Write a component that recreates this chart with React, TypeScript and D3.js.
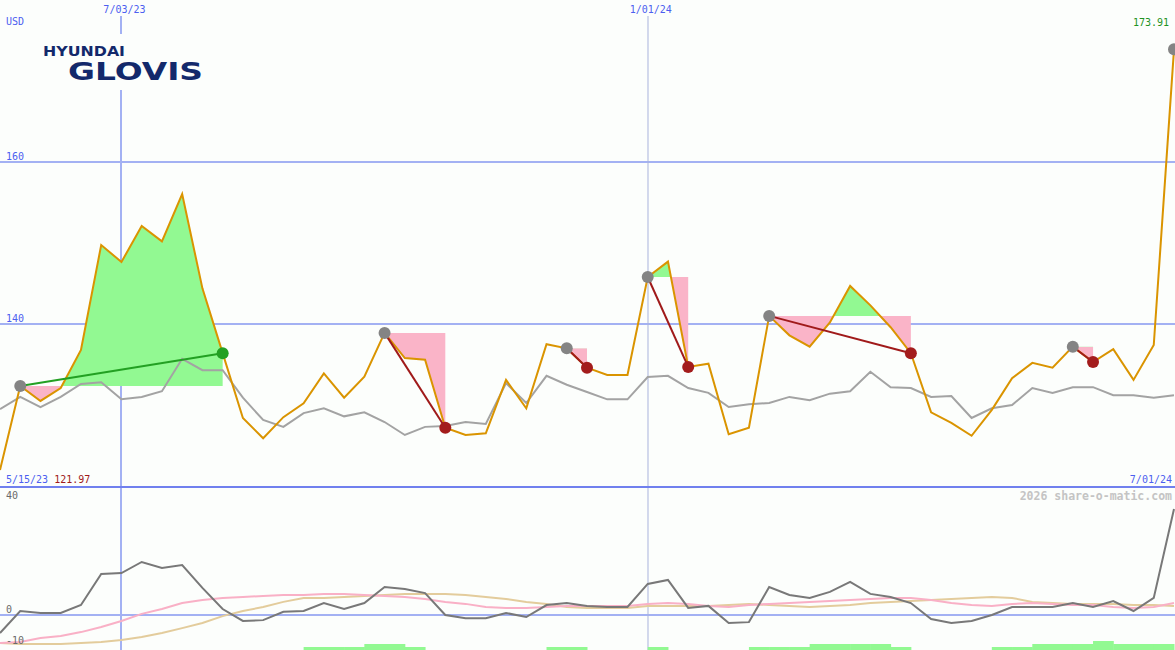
import React from "react";
import * as d3 from "d3";

// weekly closes (USD)
const closes = [
  121.97, 132.35, 130.5, 132.1, 136.8, 149.75, 147.65, 152.1, 150.2, 156.05,
  144.4, 136.4, 128.4, 125.9, 128.5, 130.2, 133.9, 130.9, 133.5, 138.9,
  135.8, 135.6, 127.2, 126.3, 126.5, 133.1, 129.6, 137.5, 137.0, 134.6,
  133.7, 133.7, 145.8, 147.7, 134.7, 135.1, 126.4, 127.2, 141.0, 138.6,
  137.2, 140.2, 144.7, 142.3, 139.6, 136.4, 129.1, 127.8, 126.2, 129.4,
  133.3, 135.2, 134.6, 137.2, 135.3, 136.9, 133.1, 137.4, 173.91,
];

// grey comparison line, same units
const benchmark = [
  129.5, 131.0, 129.75, 131.0, 132.6, 132.8, 130.7, 131.0, 131.7, 135.7,
  134.3, 134.3, 130.9, 128.15, 127.3, 129.0, 129.6, 128.6, 129.1, 127.9,
  126.3, 127.3, 127.4, 127.9, 127.65, 132.7, 130.25, 133.6, 132.5, 131.6,
  130.7, 130.7, 133.45, 133.6, 132.1, 131.5, 129.75, 130.1, 130.25, 131.0,
  130.6, 131.4, 131.7, 134.1, 132.2, 132.1, 131.0, 131.1, 128.4, 129.6,
  130.0, 132.1, 131.5, 132.2, 132.2, 131.2, 131.2, 130.9, 131.2,
];

// lower panel
const momentum = [
  -6.3, 1.4, 0.7, 0.7, 3.5, 14.4, 14.7, 18.6, 16.5, 17.5,
  9.5, 2.1, -2.1, -1.8, 1.1, 1.4, 4.2, 2.1, 4.2, 9.8,
  9.1, 7.7, 0, -1.1, -1.1, 0.7, -0.7, 3.5, 4.2, 3.2,
  2.8, 2.8, 10.9, 12.3, 2.5, 3.2, -2.8, -2.5, 9.8, 7.0,
  6.0, 8.1, 11.6, 7.4, 6.3, 4.2, -1.4, -2.8, -2.1, 0,
  2.8, 2.8, 2.8, 4.2, 2.8, 4.9, 1.4, 6.0, 37.2,
];
const fastAvg = [
  -9.8, -9.5, -8.1, -7.4, -6.0, -4.2, -2.1, 0.4, 2.1, 4.2,
  5.3, 6.0, 6.3, 6.7, 7.0, 7.0, 7.4, 7.4, 7.0, 6.7,
  6.3, 5.6, 4.6, 3.9, 2.8, 2.5, 2.5, 2.8, 3.2, 3.2,
  3.2, 3.2, 3.9, 4.2, 3.9, 3.2, 2.8, 3.5, 3.9, 4.2,
  4.6, 4.9, 5.3, 5.6, 6.0, 6.0, 5.3, 4.2, 3.5, 3.2,
  3.9, 4.2, 3.9, 3.5, 3.5, 2.8, 2.5, 2.8, 4.2,
];
const slowAvg = [
  -9.8, -10.2, -10.2, -10.2, -9.8, -9.5, -8.8, -7.7, -6.3, -4.6,
  -2.8, -0.4, 1.4, 2.8, 4.6, 6.0, 6.0, 6.3, 6.7, 7.0,
  7.4, 7.4, 7.4, 7.0, 6.3, 5.6, 4.6, 3.9, 2.8, 2.5,
  2.5, 2.5, 3.2, 3.2, 3.2, 3.2, 3.5, 3.9, 3.5, 3.2,
  2.8, 3.2, 3.5, 4.2, 4.6, 4.9, 5.3, 5.6, 6.0, 6.3,
  6.0, 4.6, 4.2, 3.9, 3.9, 3.9, 3.5, 3.5, 3.2,
];
const bandLevels = [
  0, 0, 0, 0, 0, 0, 0, 0, 0, 0,
  0, 0, 0, 0, 0, 1, 1, 1, 2, 2,
  1, 0, 0, 0, 0, 0, 0, 1, 1, 0,
  0, 0, 1, 0, 0, 0, 0, 1, 1, 1,
  2, 2, 2, 2, 1, 0, 0, 0, 0, 1,
  1, 2, 2, 2, 3, 2, 2, 2, 0,
];

// trades: entry / exit week index (-1 = still open)
const tradeEntries = [1, 19, 28, 32, 38, 53, 58];
const tradeExits = [11, 22, 29, 34, 45, 54, -1];

const priceTicks = [140, 160];
const lowerTicks = [40, 0, -10];
const firstWeek = new Date(2023, 4, 22);
const dateTicks = [new Date(2023, 6, 3), new Date(2024, 0, 1)];
const dateLabels = ["7/03/23", "1/01/24"];
const startLabel = "5/15/23";
const endLabel = "7/01/24";
const lowLabel = "121.97";
const highLabel = "173.91";

const W = 1175;
const H = 650;
const BG = "#fcfefc";
const GRID = "#a3b1f3";
const BLUE_TXT = "#4c5ff0";
const MONO = "'DejaVu Sans Mono', monospace";

export default function App() {
  const n = closes.length;
  const x = d3.scaleLinear().domain([0, n - 1]).range([0, 1174]);
  const xTime = d3
    .scaleTime()
    .domain([firstWeek, d3.timeWeek.offset(firstWeek, n - 1)])
    .range([0, 1174]);
  const y = d3.scaleLinear().domain([140, 160]).range([324, 162]);
  const yLow = d3.scaleLinear().domain([0, 40]).range([615, 501]);
  const yBand = d3.scaleLinear().domain([0, 3]).range([650, 641]);

  const priceLine = d3
    .line<number>()
    .x((_, i) => x(i))
    .y((d) => y(d));
  const lowLine = d3
    .line<number>()
    .x((_, i) => x(i))
    .y((d) => yLow(d));

  const trades = tradeEntries.map((e, k) => {
    const ex = tradeExits[k];
    const level = closes[e];
    const idx = ex < 0 ? [e] : d3.range(e, ex + 1);
    const area = d3
      .area<number>()
      .x((i) => x(i))
      .y0(y(level))
      .y1((i) => y(closes[i]));
    return { e, ex, level, path: area(idx) || "", win: ex >= 0 && closes[ex] > level };
  });

  return (
    <svg
      width={W}
      height={H}
      style={{ position: "absolute", left: 0, top: 0, background: BG }}
    >
      <defs>
        <clipPath id="mainClip">
          <rect x={0} y={0} width={W} height={486} />
        </clipPath>
        <clipPath id="lowClip">
          <rect x={0} y={489} width={W} height={H - 489} />
        </clipPath>
        {trades.map((t, k) => (
          <React.Fragment key={k}>
            <clipPath id={`up${k}`}>
              <rect x={0} y={0} width={W} height={y(t.level)} />
            </clipPath>
            <clipPath id={`dn${k}`}>
              <rect x={0} y={y(t.level)} width={W} height={H} />
            </clipPath>
          </React.Fragment>
        ))}
      </defs>
      <rect width={W} height={H} fill={BG} />

      {/* grid */}
      {priceTicks.map((v) => (
        <line key={v} x1={0} x2={W} y1={y(v)} y2={y(v)} stroke={GRID} strokeWidth={2} />
      ))}
      <line x1={0} x2={W} y1={yLow(0)} y2={yLow(0)} stroke={GRID} strokeWidth={2} />
      {dateTicks.map((d, i) => (
        <line
          key={i}
          x1={Math.round(xTime(d))}
          x2={Math.round(xTime(d))}
          y1={16}
          y2={H}
          stroke={i === 0 ? GRID : "#a9b3dc"}
          strokeWidth={i === 0 ? 2 : 1}
        />
      ))}
      <line x1={0} x2={W} y1={487} y2={487} stroke="#7080ee" strokeWidth={2} />

      {/* logo */}
      <rect x={38} y={34} width={170} height={56} fill={BG} />
      <text
        x={43}
        y={56}
        fontFamily="'DejaVu Sans', sans-serif"
        fontWeight="bold"
        fontSize={14}
        fill="#13296b"
        textLength={82}
        lengthAdjust="spacingAndGlyphs"
      >
        HYUNDAI
      </text>
      <text
        x={68}
        y={80}
        fontFamily="'DejaVu Sans', sans-serif"
        fontWeight="bold"
        fontSize={24}
        fill="#13296b"
        textLength={135}
        lengthAdjust="spacingAndGlyphs"
      >
        GLOVIS
      </text>

      {/* main panel */}
      <g clipPath="url(#mainClip)">
        {trades.map((t, k) => (
          <g key={k}>
            <path d={t.path} fill="#92f992" clipPath={`url(#up${k})`} />
            <path d={t.path} fill="#fab4c8" clipPath={`url(#dn${k})`} />
          </g>
        ))}
        <path d={priceLine(benchmark) || ""} fill="none" stroke="#a3a3a3" strokeWidth={2} />
        <path d={priceLine(closes) || ""} fill="none" stroke="#da9400" strokeWidth={2} />
        {trades.map((t, k) =>
          t.ex < 0 ? null : (
            <line
              key={k}
              x1={x(t.e)}
              y1={y(closes[t.e])}
              x2={x(t.ex)}
              y2={y(closes[t.ex])}
              stroke={t.win ? "#23a023" : "#a01a1a"}
              strokeWidth={2}
            />
          )
        )}
        {trades.map((t, k) => (
          <g key={k}>
            <circle cx={x(t.e)} cy={y(closes[t.e])} r={6} fill="#848484" />
            {t.ex >= 0 && (
              <circle
                cx={x(t.ex)}
                cy={y(closes[t.ex])}
                r={6}
                fill={t.win ? "#23a023" : "#a31c1c"}
              />
            )}
          </g>
        ))}
      </g>

      {/* lower panel */}
      <g clipPath="url(#lowClip)">
        {bandLevels.map((v, i) =>
          v > 0 ? (
            <rect
              key={i}
              x={x(i)}
              width={x(i + 1) - x(i) + 0.5}
              y={yBand(v)}
              height={H - yBand(v)}
              fill="#92f992"
            />
          ) : null
        )}
        <path d={lowLine(slowAvg) || ""} fill="none" stroke="#e3cc9c" strokeWidth={2} />
        <path d={lowLine(fastAvg) || ""} fill="none" stroke="#f9b0c6" strokeWidth={2} />
        <path d={lowLine(momentum) || ""} fill="none" stroke="#787878" strokeWidth={2} />
      </g>

      {/* labels */}
      <g fontFamily={MONO} fontSize={10}>
        <text x={6} y={25} fill={BLUE_TXT}>USD</text>
        {dateTicks.map((d, i) => (
          <text key={i} x={xTime(d) + 3} y={13} fill={BLUE_TXT} textAnchor="middle">
            {dateLabels[i]}
          </text>
        ))}
        <text x={1169} y={26} fill="#1f931f" textAnchor="end">{highLabel}</text>
        {priceTicks.map((v) => (
          <text key={v} x={6} y={y(v) - 2} fill={BLUE_TXT}>{v}</text>
        ))}
        <text x={6} y={483} fill={BLUE_TXT}>
          {startLabel} <tspan fill="#a01a1a">{lowLabel}</tspan>
        </text>
        <text x={1172} y={483} fill={BLUE_TXT} textAnchor="end">{endLabel}</text>
        {lowerTicks.map((v) => (
          <text key={v} x={6} y={yLow(v) - 2 + (v < 0 ? 2 : 0)} fill="#6a6a6a">{v}</text>
        ))}
      </g>
      <text
        x={1172}
        y={500}
        fontFamily={MONO}
        fontSize={11.5}
        fontWeight="bold"
        fill="#c4c4c4"
        textAnchor="end"
      >
        2026 share-o-matic.com
      </text>
    </svg>
  );
}
